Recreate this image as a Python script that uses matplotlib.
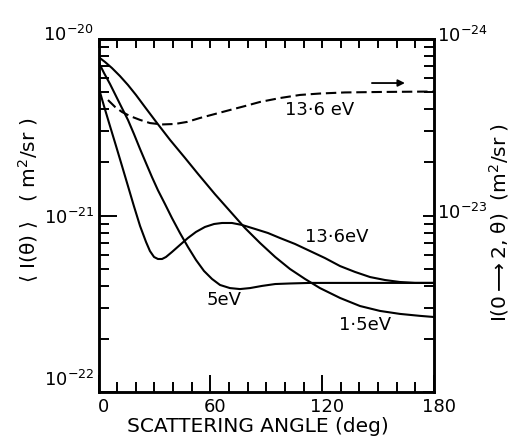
import matplotlib
matplotlib.use('Agg')
import matplotlib.pyplot as plt
import matplotlib.transforms as mtransforms
from matplotlib.ticker import MultipleLocator, LogLocator, NullFormatter

plt.rcParams['font.family'] = ['DejaVu Sans']
plt.rcParams['mathtext.fontset'] = 'dejavusans'

# ---------------- data ----------------
angle_15 = [0, 3.5, 7.2, 11.5, 15.8, 20.1, 24.9, 31.4, 38.4, 46.4, 53.4, 62.5, 70.5, 78.6, 86.7,
            94.8, 102.7, 110.8, 118.8, 129.6, 140.3, 151.0, 161.7, 172.5, 180]
i_15 = [7.91e-21, 7.41e-21, 6.85e-21, 6.17e-21, 5.49e-21, 4.82e-21, 4.12e-21, 3.34e-21, 2.68e-21,
        2.12e-21, 1.72e-21, 1.32e-21, 1.06e-21, 8.49e-22, 6.98e-22, 5.82e-22, 4.98e-22, 4.37e-22,
        3.88e-22, 3.41e-22, 3.07e-22, 2.88e-22, 2.77e-22, 2.70e-22, 2.66e-22]

angle_5 = [0, 2.95, 6.17, 9.39, 12.6, 15.8, 19.0, 22.3, 25.5, 28.7, 31.9, 35.7, 39.4, 43.7, 48.0,
           52.3, 56.6, 60.9, 65.2, 70.5, 75.9, 81.3, 87.7, 94.8, 102.7, 113.5, 150, 180]
i_5 = [7.41e-21, 6.42e-21, 5.56e-21, 4.75e-21, 4.06e-21, 3.48e-21, 2.90e-21, 2.38e-21, 1.98e-21,
       1.65e-21, 1.39e-21, 1.16e-21, 9.68e-22, 7.96e-22, 6.63e-22, 5.60e-22, 4.85e-22, 4.37e-22,
       4.04e-22, 3.88e-22, 3.83e-22, 3.88e-22, 3.99e-22, 4.09e-22, 4.12e-22, 4.15e-22, 4.15e-22,
       4.15e-22]

angle_136 = [0, 2.95, 6.17, 9.39, 12.6, 15.8, 19.0, 22.3, 25.5, 27.6, 29.8, 31.9, 34.1, 36.2, 39.4,
             43.7, 48.0, 52.3, 57.1, 62.0, 66.3, 71.6, 77.0, 84.0, 90.9, 97.3, 105.4, 113.5, 121.5,
             129.6, 137.6, 145.7, 153.7, 161.7, 169.8, 180]
i_136 = [5.35e-21, 4.17e-21, 3.21e-21, 2.48e-21, 1.91e-21, 1.47e-21, 1.13e-21, 8.72e-22, 7.08e-22,
         6.29e-22, 5.82e-22, 5.67e-22, 5.67e-22, 5.82e-22, 6.21e-22, 6.81e-22, 7.46e-22, 8.07e-22,
         8.61e-22, 8.95e-22, 9.07e-22, 9.07e-22, 8.84e-22, 8.39e-22, 7.96e-22, 7.46e-22, 6.90e-22,
         6.29e-22, 5.74e-22, 5.17e-22, 4.79e-22, 4.48e-22, 4.31e-22, 4.20e-22, 4.15e-22, 4.15e-22]

# dashed curve, right-hand axis
angle_136_02 = [5.1, 8.9, 12.6, 16.9, 22.3, 27.6, 34.1, 41.0, 47.5, 54.5, 62.5, 70.5, 78.6, 86.7,
                97.4, 108.1, 118.8, 132.2, 151.0, 180]
i_136_02 = [4.51e-24, 4.12e-24, 3.86e-24, 3.66e-24, 3.48e-24, 3.34e-24, 3.28e-24, 3.30e-24,
            3.39e-24, 3.57e-24, 3.76e-24, 3.96e-24, 4.17e-24, 4.40e-24, 4.63e-24, 4.82e-24,
            4.91e-24, 4.98e-24, 5.01e-24, 5.04e-24]

x_ticks = [0, 60, 120, 180]
left_ticks = [1e-22, 1e-21, 1e-20]
left_tick_labels = [r'$10^{-22}$', r'$10^{-21}$', r'$10^{-20}$']
right_ticks = [1e-25, 1e-24, 1e-23]
right_tick_labels = ['', r'$10^{-23}$', r'$10^{-24}$']

# ---------------- figure ----------------
fig = plt.figure(figsize=(5.12, 4.41), dpi=100)
ax = fig.add_axes([98.5 / 512, 49 / 441, 335.5 / 512, 353 / 441])

lw = 1.5
ax.plot(angle_15, i_15, color='black', lw=lw)
ax.plot(angle_5, i_5, color='black', lw=lw)
ax.plot(angle_136, i_136, color='black', lw=lw)

ax.set_yscale('log')
ax.set_xlim(0, 180)
ax.set_ylim(1e-22, 1e-20)

ax.set_xticks(x_ticks)
ax.set_xticklabels([str(t) for t in x_ticks])
ax.xaxis.set_minor_locator(MultipleLocator(10))
ax.set_yticks(left_ticks)
ax.set_yticklabels(left_tick_labels)
ax.yaxis.set_minor_locator(LogLocator(base=10, subs=range(2, 10)))
ax.yaxis.set_minor_formatter(NullFormatter())

for s in ax.spines.values():
    s.set_linewidth(1.8)

ax.tick_params(axis='x', which='major', direction='in', length=12, width=1.4,
               labelsize=13, pad=4, top=False)
ax.tick_params(axis='x', which='minor', direction='in', length=7, width=1.4, top=False)
ax.tick_params(axis='y', which='major', direction='in', length=13, width=1.4,
               labelsize=13, pad=3, right=False)
ax.tick_params(axis='y', which='minor', direction='in', length=7.5, width=1.4, right=False)

# top ticks (all equal)
sec = ax.secondary_xaxis('top')
sec.set_xticks(list(range(0, 181, 10)))
sec.tick_params(direction='in', length=6.5, width=1.4, labeltop=False)
sec.spines['top'].set_linewidth(1.8)

# right axis
ax2 = ax.twinx()
ax2.set_yscale('log')
ax2.set_ylim(1e-25, 1e-23)
ax2.plot(angle_136_02, i_136_02, color='black', lw=lw, dashes=(5, 2.3))
ax2.set_yticks(right_ticks)
ax2.set_yticklabels(right_tick_labels)
ax2.yaxis.set_minor_locator(LogLocator(base=10, subs=range(2, 10)))
ax2.yaxis.set_minor_formatter(NullFormatter())
ax2.tick_params(axis='y', which='major', direction='in', length=8, width=1.4,
                labelsize=13, pad=2)
ax2.tick_params(axis='y', which='minor', direction='in', length=7, width=1.4)
for s in ax2.spines.values():
    s.set_linewidth(1.8)

# label offsets (pixels at dpi 100 -> points)
def shift(label, dx_px, dy_px):
    off = mtransforms.ScaledTranslation(dx_px / 100, dy_px / 100, fig.dpi_scale_trans)
    label.set_transform(label.get_transform() + off)

for lab in ax.get_xticklabels():
    shift(lab, 5, 0)
ylabs = ax.get_yticklabels()
shift(ylabs[0], 0, 14)
shift(ylabs[2], 0, 6)
for lab in ax2.get_yticklabels():
    shift(lab, 0, 5)

# arrow on dashed curve
ax2.annotate('', xy=(164.4, 5.63e-24), xytext=(146.7, 5.63e-24),
             arrowprops=dict(arrowstyle='-|>', color='black', lw=1.3,
                             mutation_scale=10, shrinkA=0, shrinkB=0))

# curve labels
ax.text(118.8, 3.96e-21, '13·6 eV', fontsize=13, ha='center', va='center')
ax.text(128, 7.55e-22, '13·6eV', fontsize=13, ha='center', va='center')
ax.text(67.3, 3.32e-22, '5eV', fontsize=13, ha='center', va='center')
ax.text(143, 2.4e-22, '1·5eV', fontsize=13, ha='center', va='center')

# axis labels
fig.text(258 / 512, 1 - 426 / 441, 'SCATTERING ANGLE (deg)', fontsize=14.5,
         ha='center', va='center')
fig.text(29 / 512, 1 - 200 / 441, r'$\langle$ I(θ) $\rangle$   ( m$^2$/sr )', fontsize=14.5,
         ha='center', va='center', rotation=90)
fig.text(499 / 512, 1 - 222 / 441, r'I(0$\longrightarrow$2, θ)  (m$^2$/sr )', fontsize=14.5,
         ha='center', va='center', rotation=90)

fig.savefig('out.png', dpi=100)
